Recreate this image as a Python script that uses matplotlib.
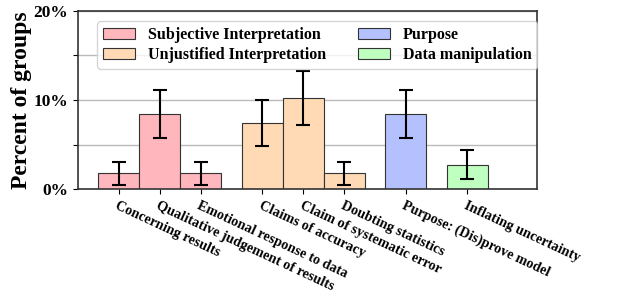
import matplotlib.pyplot as plt
import matplotlib.ticker as mticker

# categories and values (percent of groups)
labels = ["Concerning results", "Qualitative judgement of results",
          "Emotional response to data", "Claims of accuracy",
          "Claim of systematic error", "Doubting statistics",
          "Purpose: (Dis)prove model", "Inflating uncertainty"]
positions = [0, 1, 2, 3.5, 4.5, 5.5, 7, 8.5]
values = [1.8, 8.4, 1.8, 7.45, 10.25, 1.8, 8.4, 2.75]
errors = [1.3, 2.7, 1.3, 2.55, 3.0, 1.3, 2.7, 1.6]
groups = ["Subjective Interpretation"] * 3 + ["Unjustified Interpretation"] * 3 + \
         ["Purpose", "Data manipulation"]

colors = {"Subjective Interpretation": "#ffb6bc",
          "Unjustified Interpretation": "#ffdab5",
          "Purpose": "#b5c0ff",
          "Data manipulation": "#bfffbf"}

plt.rcParams['font.family'] = ['Liberation Serif']
plt.rcParams['font.weight'] = 'bold'

fig = plt.figure(figsize=(6.39, 2.96), dpi=100)
ax = fig.add_axes([0.122, 0.3605, 0.718, 0.6034])

done = set()
for x, v, e, g in zip(positions, values, errors, groups):
    lab = g if g not in done else None
    done.add(g)
    ax.bar(x, v, width=1, color=colors[g], edgecolor='#333333', linewidth=0.8,
           label=lab, zorder=2)
    ax.errorbar(x, v, yerr=e, color='black', capsize=5, capthick=1.5,
                elinewidth=1.5, zorder=3)

ax.set_xlim(-1, 10.2)
ax.set_ylim(0, 20)
ax.set_yticks([0, 5, 10, 15, 20])
ax.yaxis.set_major_formatter(mticker.FuncFormatter(
    lambda y, p: "%d%%" % y if y % 10 == 0 else ""))
ax.yaxis.grid(True, color='#bbbbbb', linewidth=1, zorder=0)
ax.set_ylabel("Percent of groups", fontsize=17, fontweight='bold', labelpad=1)
ax.tick_params(axis='y', labelsize=12.5)

ax.set_xticks(positions)
ax.set_xticklabels(labels, rotation=-25, ha='left', rotation_mode='anchor',
                   fontsize=10.2, fontweight='bold')
for s in ax.spines.values():
    s.set_color('#333333')
    s.set_linewidth(1.2)

ax.legend(ncol=2, loc='upper left', prop={'weight': 'bold', 'size': 11.5},
          columnspacing=2.0, handlelength=2.0, labelspacing=0.25,
          borderpad=0.35, bbox_to_anchor=(0.025, 0.985))

plt.savefig('out.png', dpi=100)
